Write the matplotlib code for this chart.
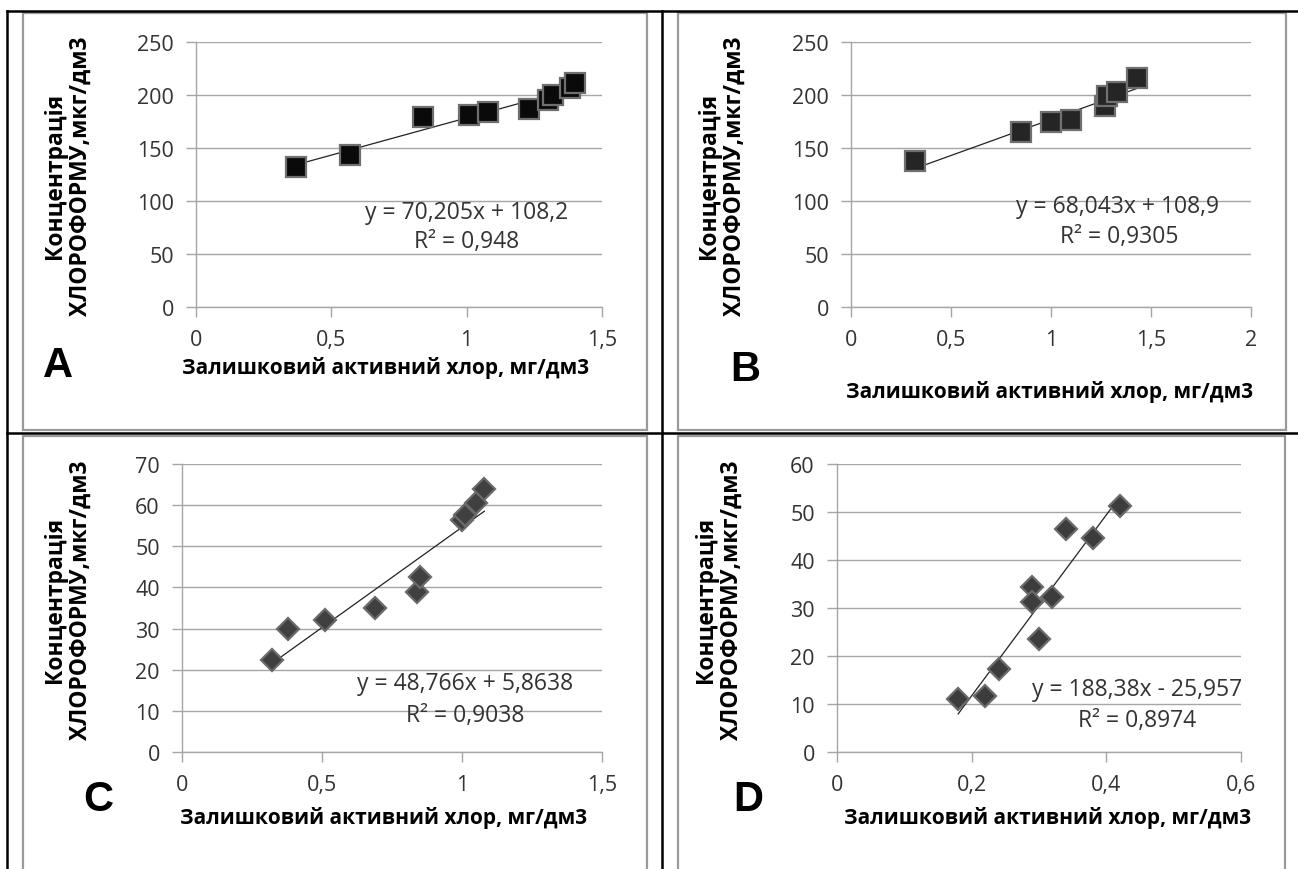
import matplotlib
matplotlib.use("Agg")
import matplotlib.pyplot as plt
from matplotlib.lines import Line2D
from matplotlib.patches import Rectangle
import numpy as np

W, H = 1298, 870

# data
a_x = [0.37, 0.57, 0.84, 1.01, 1.08, 1.23, 1.30, 1.32, 1.38, 1.40]
a_y = [132, 143, 179, 181, 184, 187, 195, 200, 207, 211]
b_x = [0.32, 0.85, 1.00, 1.10, 1.27, 1.28, 1.33, 1.43]
b_y = [138, 165, 175, 176, 190, 199, 203, 216]
c_x = [0.32, 0.38, 0.51, 0.69, 0.84, 0.85, 1.00, 1.01, 1.05, 1.08]
c_y = [22.4, 30.0, 32.1, 34.9, 38.9, 42.5, 56.5, 57.5, 60.5, 64.0]
d_x = [0.18, 0.22, 0.24, 0.29, 0.29, 0.30, 0.32, 0.34, 0.38, 0.42]
d_y = [11.0, 11.7, 17.2, 34.3, 31.3, 23.5, 32.3, 46.4, 44.6, 51.3]

slopes = [70.205, 68.043, 48.766, 188.38]
intercepts = [108.2, 108.9, 5.8638, -25.957]
eq_texts = ["y = 70,205x + 108,2", "y = 68,043x + 108,9",
            "y = 48,766x + 5,8638", "y = 188,38x - 25,957"]
r2_texts = ["R² = 0,948", "R² = 0,9305", "R² = 0,9038", "R² = 0,8974"]
letters = ["A", "B", "C", "D"]
xlims = [1.5, 2.0, 1.5, 0.6]
xsteps = [0.5, 0.5, 0.5, 0.2]
ylims = [250, 250, 70, 60]
ysteps = [50, 50, 10, 10]

xlabel = "Залишковий активний хлор, мг/дм3"
ylabel = "Концентрація\nХЛОРОФОРМУ,мкг/дм3"

FONT = ["Open Sans", "DejaVu Sans"]
plt.rcParams["font.family"] = FONT

fig = plt.figure(figsize=(W / 100, H / 100), dpi=100)


def fx(px):
    return px / W


def fy(py):
    return 1 - py / H


def comma(v, pos=None):
    return ("%g" % round(v, 3)).replace(".", ",")


# axes boxes in pixels: left, top, right, bottom
boxes = [(196, 43, 602, 308), (851, 43, 1251, 308),
         (182, 465, 602, 753), (837, 465, 1241, 753)]
series = [(a_x, a_y), (b_x, b_y), (c_x, c_y), (d_x, d_y)]
markers = ["s", "s", "D", "D"]
msizes = [15, 14.5, 11, 11]
fills = ["#0a0a0a", "#252525", "#404040", "#3c3c3c"]
edges = ["#6f6f6f", "#707070", "#6a6a6a", "#6a6a6a"]

eq_pos = [(467, 213), (1118, 207), (465, 684), (1137, 690)]
r2_pos = [(467, 242), (1119, 237), (465, 716), (1137, 721)]
xlab_pos = [(386, 368), (1050, 392), (383, 818), (1048, 818)]
ylab_pos = [(68, 176), (722, 176), (68, 600), (719, 600)]
letter_pos = [(58, 366), (745, 370), (98, 800), (748, 800)]

grid_c = "#a6a6a6"
text_c = "#333333"

for i in range(4):
    l, t, r, b = boxes[i]
    ax = fig.add_axes([fx(l), fy(b), fx(r) - fx(l), (b - t) / H])
    xs, ys = series[i]
    ax.set_xlim(0, xlims[i])
    ax.set_ylim(0, ylims[i])
    ax.set_xticks(np.arange(0, xlims[i] + 1e-9, xsteps[i]))
    ax.set_yticks(np.arange(0, ylims[i] + 1e-9, ysteps[i]))
    ax.xaxis.set_major_formatter(plt.FuncFormatter(comma))
    ax.yaxis.set_major_formatter(plt.FuncFormatter(comma))
    for s in ["top", "right"]:
        ax.spines[s].set_visible(False)
    for s in ["left", "bottom"]:
        ax.spines[s].set_color(grid_c)
        ax.spines[s].set_linewidth(1.0)
    ax.grid(axis="y", color=grid_c, lw=1.0)
    ax.set_axisbelow(True)
    ax.tick_params(direction="out", length=7, width=1.0, color=grid_c,
                   labelsize=15.5, labelcolor=text_c, pad=9)
    ax.patch.set_alpha(0)

    # trendline over the data range
    tx = np.array([min(xs), max(xs)])
    ax.plot(tx, slopes[i] * tx + intercepts[i], color="#222222", lw=0.9,
            zorder=3)
    ax.plot(xs, ys, linestyle="none", marker=markers[i], ms=msizes[i],
            mfc=fills[i], mec=edges[i], mew=1.6, zorder=4)

    fig.text(fx(eq_pos[i][0]), fy(eq_pos[i][1]), eq_texts[i], ha="center",
             va="center", fontsize=16.5, color=text_c)
    fig.text(fx(r2_pos[i][0]), fy(r2_pos[i][1]), r2_texts[i], ha="center",
             va="center", fontsize=16.5, color=text_c)
    fig.text(fx(xlab_pos[i][0]), fy(xlab_pos[i][1]), xlabel, ha="center",
             va="center", fontsize=15, fontweight="bold", color="black")
    fig.text(fx(ylab_pos[i][0]), fy(ylab_pos[i][1]), ylabel, ha="center",
             va="center", fontsize=16.5, fontweight="bold", color="black",
             rotation=90, multialignment="center", linespacing=1.1)
    fig.text(fx(letter_pos[i][0]), fy(letter_pos[i][1]), letters[i],
             ha="center", va="center", fontsize=30, fontweight="bold",
             family="Liberation Sans", color="black")

# chart frames (gray)
frames = [(23, 14, 647, 431), (678, 14, 1286, 431),
          (23, 437, 647, 875), (678, 437, 1285, 875)]
for l, t, r, b in frames:
    fig.add_artist(Rectangle((fx(l), fy(b)), fx(r) - fx(l), (b - t) / H,
                             transform=fig.transFigure, fill=False,
                             edgecolor="#9a9a9a", lw=1.6))

# table lines (black)
for (x0, y0, x1, y1) in [(7, 12, 1298, 12), (7, 12, 7, 870),
                         (662, 12, 662, 870), (7, 434, 1298, 434)]:
    fig.add_artist(Line2D([fx(x0), fx(x1)], [fy(y0), fy(y1)],
                          transform=fig.transFigure, color="black", lw=1.8))

fig.savefig("out.png", dpi=100)
